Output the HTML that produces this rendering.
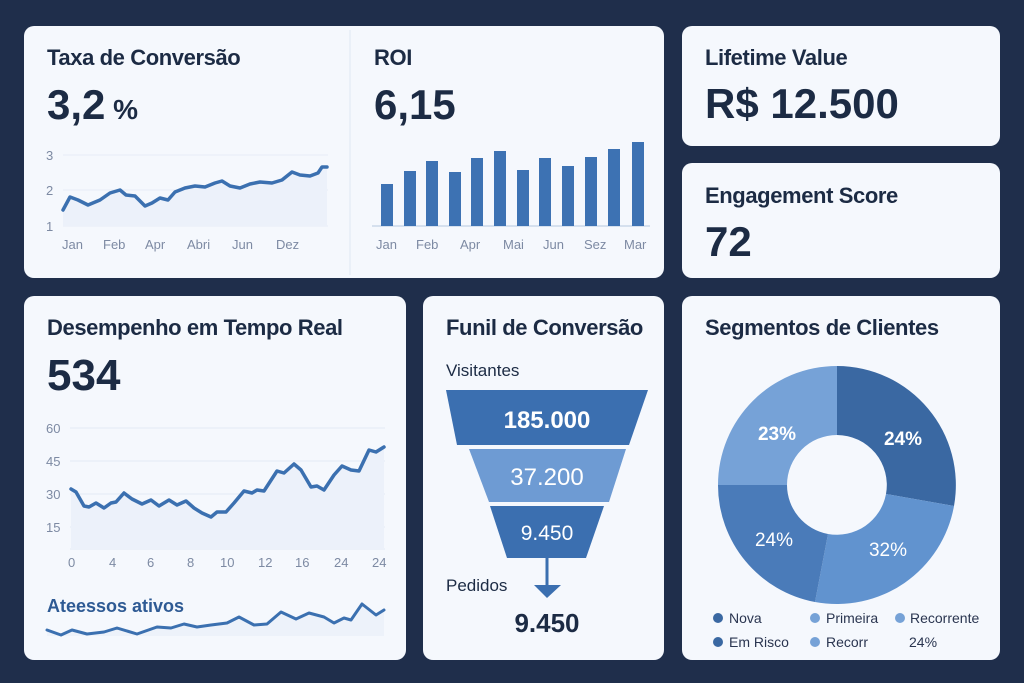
<!DOCTYPE html>
<html><head><meta charset="utf-8"><style>
body{margin:0;width:1024px;height:683px;background:#1f2e4b;font-family:"Liberation Sans",sans-serif;overflow:hidden;position:relative}
.c{position:absolute;background:#f5f8fd;border-radius:10px}
.t{position:absolute;font-size:22px;font-weight:bold;color:#1c2b44;letter-spacing:-0.4px}
.n{position:absolute;font-size:42px;font-weight:bold;color:#1c2b44;letter-spacing:0px}
svg{position:absolute;left:0;top:0}
</style></head><body>
<div class="c" style="left:24px;top:26px;width:640px;height:252px"></div>
<div class="c" style="left:682px;top:26px;width:318px;height:120px"></div>
<div class="c" style="left:682px;top:163px;width:318px;height:115px"></div>
<div class="c" style="left:24px;top:296px;width:382px;height:364px"></div>
<div class="c" style="left:423px;top:296px;width:241px;height:364px"></div>
<div class="c" style="left:682px;top:296px;width:318px;height:364px"></div>

<div class="t" style="left:47px;top:45px">Taxa de Conversão</div>
<div class="n" style="left:47px;top:81px">3,2<span style="font-size:28px"> %</span></div>
<div class="t" style="left:374px;top:45px">ROI</div>
<div class="n" style="left:374px;top:81px">6,15</div>
<div class="t" style="left:705px;top:45px">Lifetime Value</div>
<div class="n" style="left:705px;top:80px">R$ 12.500</div>
<div class="t" style="left:705px;top:183px">Engagement Score</div>
<div class="n" style="left:705px;top:218px">72</div>
<div class="t" style="left:47px;top:315px">Desempenho em Tempo Real</div>
<div class="n" style="left:47px;top:351px;font-size:44px">534</div>
<div class="t" style="left:446px;top:315px">Funil de Conversão</div>
<div class="t" style="left:705px;top:315px">Segmentos de Clientes</div>

<svg width="1024" height="683" font-family="Liberation Sans, sans-serif">
<line x1="350" y1="30" x2="350" y2="275" stroke="#e0e7f2"/>
<g stroke="#e6ecf6"><line x1="63" y1="155" x2="328" y2="155"/><line x1="63" y1="190" x2="328" y2="190"/><line x1="63" y1="226" x2="328" y2="226"/></g>
<g fill="#7d8aa3" font-size="13"><text x="46" y="160">3</text><text x="46" y="195">2</text><text x="46" y="231">1</text>
<text x="62" y="249">Jan</text><text x="103" y="249">Feb</text><text x="145" y="249">Apr</text><text x="187" y="249">Abri</text><text x="232" y="249">Jun</text><text x="276" y="249">Dez</text></g>
<path d="M63,210 L70,197 78,200 88,205 100,200 110,193 120,190 126,195 135,196 145,206 152,203 160,198 168,200 175,192 185,188 195,186 205,187 215,183 222,181 230,186 240,188 250,184 260,182 272,183 282,180 292,172 300,175 310,176 318,173 322,167 327,167 L327,226 63,226Z" fill="#ecf1fa"/>
<polyline points="63,210 70,197 78,200 88,205 100,200 110,193 120,190 126,195 135,196 145,206 152,203 160,198 168,200 175,192 185,188 195,186 205,187 215,183 222,181 230,186 240,188 250,184 260,182 272,183 282,180 292,172 300,175 310,176 318,173 322,167 327,167" fill="none" stroke="#3b70b0" stroke-width="3.5" stroke-linejoin="round" stroke-linecap="round"/>
<line x1="372" y1="226" x2="650" y2="226" stroke="#d5e0ee" stroke-width="2"/>
<g fill="#3d72b3">
<rect x="381" y="184" width="12" height="42"/><rect x="404" y="171" width="12" height="55"/><rect x="426" y="161" width="12" height="65"/><rect x="449" y="172" width="12" height="54"/><rect x="471" y="158" width="12" height="68"/><rect x="494" y="151" width="12" height="75"/><rect x="517" y="170" width="12" height="56"/><rect x="539" y="158" width="12" height="68"/><rect x="562" y="166" width="12" height="60"/><rect x="585" y="157" width="12" height="69"/><rect x="608" y="149" width="12" height="77"/><rect x="632" y="142" width="12" height="84"/></g>
<g fill="#7d8aa3" font-size="13"><text x="376" y="249">Jan</text><text x="416" y="249">Feb</text><text x="460" y="249">Apr</text><text x="503" y="249">Mai</text><text x="543" y="249">Jun</text><text x="584" y="249">Sez</text><text x="624" y="249">Mar</text></g>

<g stroke="#e3eaf5"><line x1="70" y1="428" x2="385" y2="428"/><line x1="70" y1="461" x2="385" y2="461"/><line x1="70" y1="494" x2="385" y2="494"/><line x1="70" y1="527" x2="385" y2="527"/><line x1="70" y1="549" x2="385" y2="549"/></g>
<g fill="#7d8aa3" font-size="13"><text x="46" y="433">60</text><text x="46" y="466">45</text><text x="46" y="499">30</text><text x="46" y="532">15</text>
<text x="68" y="567">0</text><text x="109" y="567">4</text><text x="147" y="567">6</text><text x="187" y="567">8</text><text x="220" y="567">10</text><text x="258" y="567">12</text><text x="295" y="567">16</text><text x="334" y="567">24</text><text x="372" y="567">24</text></g>
<path d="M71,489 76,492 84,506 89,507 96,503 104,508 111,503 116,502 124,493 132,499 142,504 151,500 159,506 169,500 177,505 186,501 194,508 202,513 211,517 217,512 226,512 234,503 244,491 252,493 257,490 264,491 277,471 284,473 294,464 301,470 311,487 317,486 324,490 334,475 342,466 351,470 359,471 369,450 376,452 384,447 L384,549 71,549Z" fill="#ecf1fa"/>
<polyline points="71,489 76,492 84,506 89,507 96,503 104,508 111,503 116,502 124,493 132,499 142,504 151,500 159,506 169,500 177,505 186,501 194,508 202,513 211,517 217,512 226,512 234,503 244,491 252,493 257,490 264,491 277,471 284,473 294,464 301,470 311,487 317,486 324,490 334,475 342,466 351,470 359,471 369,450 376,452 384,447" fill="none" stroke="#3b70b0" stroke-width="3.5" stroke-linejoin="round" stroke-linecap="round"/>
<text x="47" y="612" font-size="18" font-weight="bold" fill="#2e5a94">Ateessos ativos</text>
<path d="M47,630 61,635 72,630 87,634 104,632 117,628 137,634 157,627 171,628 184,624 197,627 211,625 227,623 239,617 254,625 267,624 281,612 296,619 309,613 324,617 334,623 344,618 351,620 362,604 376,615 384,610 L384,636 47,636Z" fill="#edf2fa"/>
<polyline points="47,630 61,635 72,630 87,634 104,632 117,628 137,634 157,627 171,628 184,624 197,627 211,625 227,623 239,617 254,625 267,624 281,612 296,619 309,613 324,617 334,623 344,618 351,620 362,604 376,615 384,610" fill="none" stroke="#3b70b0" stroke-width="3" stroke-linejoin="round" stroke-linecap="round"/>

<text x="446" y="376" font-size="17" fill="#1c2b44">Visitantes</text>
<polygon points="446,390 648,390 629,445 457,445" fill="#3b6fb0"/>
<polygon points="469,449 626,449 609,502 489,502" fill="#6e9bd3"/>
<polygon points="490,506 604,506 586,558 507,558" fill="#3b6fb0"/>
<g fill="#fff" text-anchor="middle"><text x="547" y="428" font-size="24" font-weight="bold">185.000</text><text x="547" y="485" font-size="24">37.200</text><text x="547" y="540" font-size="21">9.450</text></g>
<line x1="547" y1="558" x2="547" y2="588" stroke="#3b6fb0" stroke-width="3"/>
<polygon points="534,585 561,585 547,598" fill="#3b6fb0"/>
<text x="446" y="591" font-size="17" fill="#1c2b44">Pedidos</text>
<text x="547" y="632" font-size="26" font-weight="bold" fill="#1c2b44" text-anchor="middle">9.450</text>

<g transform="translate(837,485)">
<path d="M0,-119 A119,119 0 0 1 117,21 L49,9 A50,50 0 0 0 0,-50Z" fill="#3a68a2"/>
<path d="M117,21 A119,119 0 0 1 -22,117 L-9,49 A50,50 0 0 0 49,9Z" fill="#6193cf"/>
<path d="M-22,117 A119,119 0 0 1 -119,0 L-50,0 A50,50 0 0 0 -9,49Z" fill="#4a7bb9"/>
<path d="M-119,0 A119,119 0 0 1 0,-119 L0,-50 A50,50 0 0 0 -50,0Z" fill="#76a2d7"/>
</g>
<g fill="#fff" font-size="19" text-anchor="middle"><text x="777" y="440" font-weight="bold">23%</text><text x="903" y="445" font-weight="bold">24%</text><text x="774" y="546">24%</text><text x="888" y="556">32%</text></g>
<g font-size="14" fill="#2a3550">
<circle cx="718" cy="618" r="5" fill="#3a68a2"/><text x="729" y="623">Nova</text>
<circle cx="815" cy="618" r="5" fill="#76a2d7"/><text x="826" y="623">Primeira</text>
<circle cx="900" cy="618" r="5" fill="#76a2d7"/><text x="910" y="623">Recorrente</text>
<circle cx="718" cy="642" r="5" fill="#3a68a2"/><text x="729" y="647">Em Risco</text>
<circle cx="815" cy="642" r="5" fill="#76a2d7"/><text x="826" y="647">Recorr</text>
<text x="909" y="647">24%</text></g>
</svg>
</body></html>
